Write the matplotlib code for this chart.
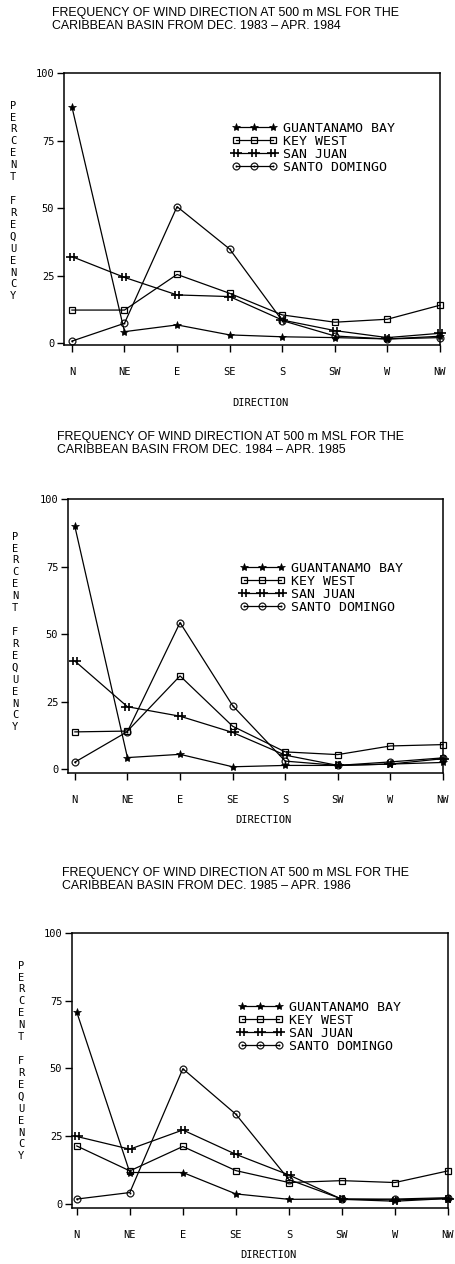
import matplotlib
matplotlib.use("Agg")
import matplotlib.pyplot as plt
from matplotlib.path import Path
import numpy as np

directions = ["N", "NE", "E", "SE", "S", "SW", "W", "NW"]
stations = ["GUANTANAMO BAY", "KEY WEST", "SAN JUAN", "SANTO DOMINGO"]
periods = ["DEC. 1983 \u2013 APR. 1984", "DEC. 1984 \u2013 APR. 1985", "DEC. 1985 \u2013 APR. 1986"]

# 1983-84
guantanamo_8384 = [87.5, 4.2, 6.7, 3.0, 2.3, 2.0, 1.5, 2.5]
keywest_8384 = [12.2, 12.2, 25.4, 18.4, 10.4, 7.7, 8.8, 14.0]
sanjuan_8384 = [32.0, 24.3, 17.8, 17.2, 8.5, 4.6, 2.0, 3.6]
santodomingo_8384 = [0.7, 7.3, 50.5, 34.8, 8.3, 2.6, 1.5, 2.0]
# 1984-85
guantanamo_8485 = [89.9, 4.4, 5.6, 1.0, 1.5, 1.5, 2.0, 2.6]
keywest_8485 = [13.9, 14.2, 34.6, 16.0, 6.5, 5.5, 8.7, 9.2]
sanjuan_8485 = [40.1, 23.2, 19.7, 13.7, 5.3, 1.5, 2.0, 4.0]
santodomingo_8485 = [2.7, 14.0, 54.3, 23.6, 3.1, 1.5, 2.8, 4.3]
# 1985-86
guantanamo_8586 = [70.8, 11.6, 11.6, 3.7, 1.7, 1.8, 1.5, 2.0]
keywest_8586 = [21.4, 12.2, 21.2, 12.3, 7.9, 8.6, 7.9, 12.2]
sanjuan_8586 = [24.9, 20.2, 27.3, 18.3, 10.7, 1.7, 1.0, 2.0]
santodomingo_8586 = [1.8, 4.2, 49.9, 33.1, 9.0, 1.8, 1.8, 2.3]

yticks = [0, 25, 50, 75, 100]

panels_data = [
    [guantanamo_8384, keywest_8384, sanjuan_8384, santodomingo_8384],
    [guantanamo_8485, keywest_8485, sanjuan_8485, santodomingo_8485],
    [guantanamo_8586, keywest_8586, sanjuan_8586, santodomingo_8586],
]

W, H = 455, 1264
fig = plt.figure(figsize=(W / 100, H / 100), dpi=100)

# San Juan marker: two vertical bars crossed by a horizontal bar
sj_verts = [(-0.3, -0.5), (-0.3, 0.5), (0.3, -0.5), (0.3, 0.5), (-0.7, 0), (0.7, 0)]
sj_codes = [Path.MOVETO, Path.LINETO, Path.MOVETO, Path.LINETO, Path.MOVETO, Path.LINETO]
sj_marker = Path(sj_verts, sj_codes)

styles = [
    dict(marker="*", markersize=6, markerfacecolor="black", markeredgecolor="black", markeredgewidth=0.5),
    dict(marker="s", markersize=5, markerfacecolor="none", markeredgecolor="black", markeredgewidth=0.9),
    dict(marker=sj_marker, markersize=8, markerfacecolor="none", markeredgecolor="black", markeredgewidth=1.2),
    dict(marker=r"$\odot$", markersize=5.5, markerfacecolor="black", markeredgecolor="black", markeredgewidth=0.2),
]

# geometry in pixels
geo = [
    dict(l=64, r=440, t=73, b=345, xmin=-0.15, xmax=6.94, ymin=-0.74,
         tx=52, ty=7, dir_y=403, ylab_x=13, ylab_y=201, leg=(232, 129)),
    dict(l=68, r=443, t=499, b=773, xmin=-0.13, xmax=6.93, ymin=-1.3,
         tx=57, ty=431, dir_y=820, ylab_x=15, ylab_y=632, leg=(240, 569)),
    dict(l=72, r=448, t=933, b=1208, xmin=-0.09, xmax=6.95, ymin=-1.5,
         tx=62, ty=867, dir_y=1255, ylab_x=21, ylab_y=1061, leg=(238, 1008)),
]

mono = "DejaVu Sans Mono"
x = np.arange(len(directions))

for data, g, period in zip(panels_data, geo, periods):
    ax = fig.add_axes([g["l"] / W, 1 - g["b"] / H, (g["r"] - g["l"]) / W, (g["b"] - g["t"]) / H])
    handles = []
    for vals, st, name in zip(data, styles, stations):
        h, = ax.plot(x, vals, color="black", linewidth=0.9, clip_on=False, label=name, **st)
        handles.append(h)
    ax.set_xlim(g["xmin"], g["xmax"])
    ax.set_ylim(g["ymin"], 100)
    ax.set_xticks(x)
    ax.set_xticklabels(directions, fontfamily=mono, fontsize=7.5)
    ax.set_yticks(yticks)
    ax.set_yticklabels([str(v) for v in yticks], fontfamily=mono, fontsize=7.5)
    ax.tick_params(axis="x", direction="out", length=5, width=1, pad=11)
    ax.tick_params(axis="y", direction="out", length=5, width=1, pad=2)
    for s in ax.spines.values():
        s.set_linewidth(1.1)
    ax.legend(handles=handles, loc="upper left",
              bbox_to_anchor=((g["leg"][0] - g["l"]) / (g["r"] - g["l"]),
                              1 - (g["leg"][1] - 7 - g["t"]) / (g["b"] - g["t"])),
              frameon=False, numpoints=3, handlelength=3.4, handletextpad=0.5,
              borderpad=0, borderaxespad=0, labelspacing=0.0,
              prop=dict(family=mono, size=9.5))
    fig.text(g["tx"] / W, 1 - g["ty"] / H,
             "FREQUENCY OF WIND DIRECTION AT 500 m MSL FOR THE\nCARIBBEAN BASIN FROM " + period,
             ha="left", va="top", fontsize=8.9, family="Liberation Sans", linespacing=1.15)
    fig.text(((g["l"] + g["r"]) / 2 + 8) / W, 1 - g["dir_y"] / H, "DIRECTION",
             ha="center", va="center", fontfamily=mono, fontsize=7.5)
    fig.text(g["ylab_x"] / W, 1 - g["ylab_y"] / H, "\n".join("PERCENT FREQUENCY"),
             ha="center", va="center", fontfamily=mono, fontsize=7.5, linespacing=1.24)

fig.savefig("out.png", dpi=100)
